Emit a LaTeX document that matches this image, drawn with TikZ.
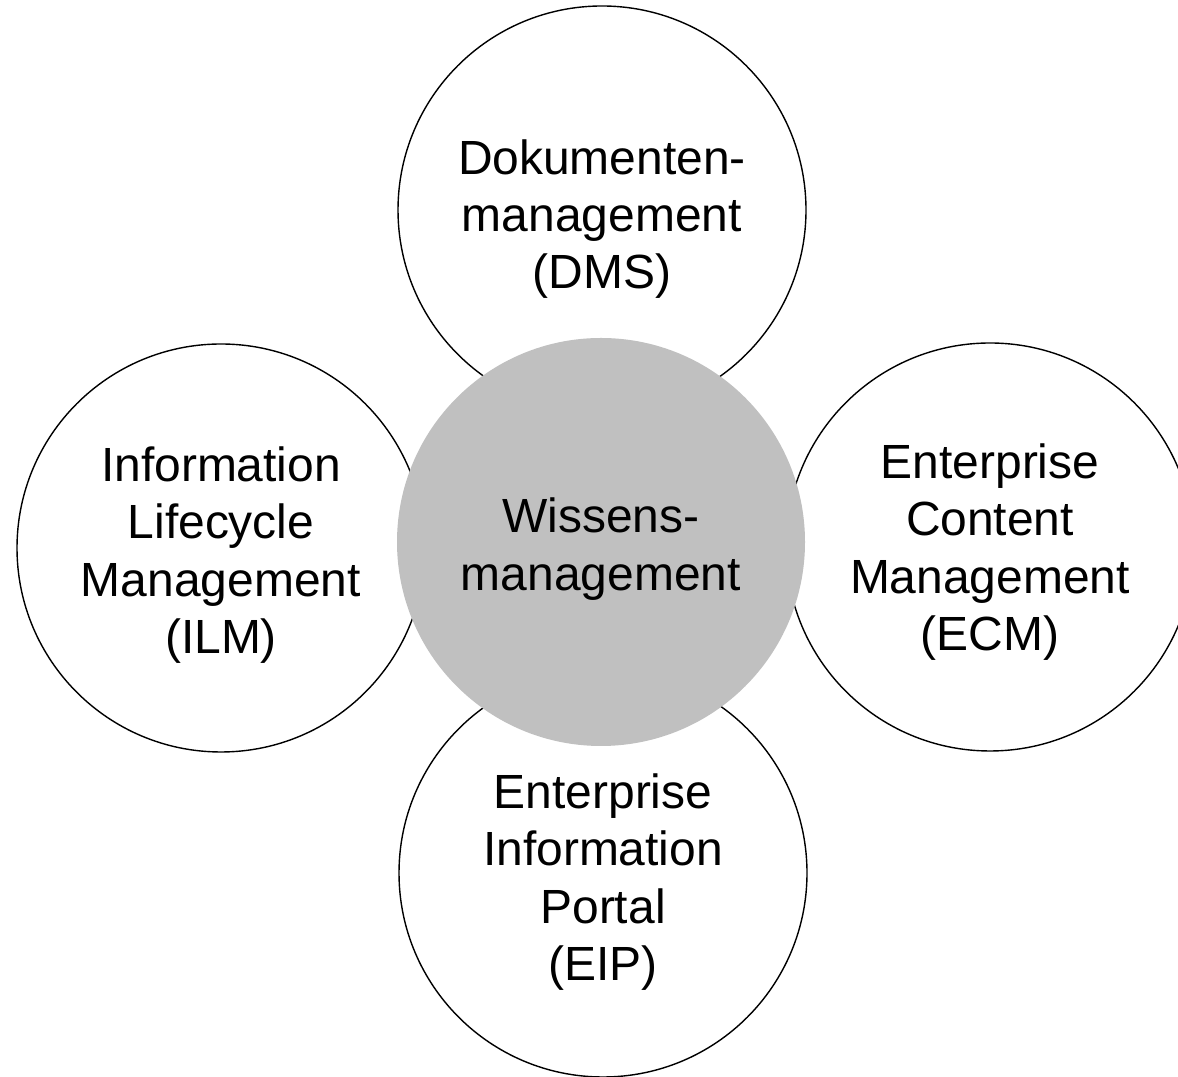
\documentclass[tikz,border=0pt]{standalone}
\usepackage{fontspec}
\setmainfont{Liberation Sans}
\usepackage{tikz}
\usetikzlibrary{calc,shapes,positioning}

\begin{document}
\begin{tikzpicture}
    \tikzstyle{cnode} = [draw=black, circle, line width=0.8pt, fill=white, minimum size=8.16cm, inner sep=0pt]
    \tikzstyle{knode} = [circle, fill={rgb,255:red,192;green,192;blue,192}, minimum size=8.16cm, inner sep=0pt]
    \tikzstyle{tnode} = [inner sep=0pt, align=center, font=\fontsize{27.3}{32.6}\selectfont]

    \useasboundingbox (0,0) rectangle (23.56,21.54);

    \node[cnode] (dms) at (12.04,17.34) {};
    \node[cnode] (ilm) at (4.42,10.58) {};
    \node[cnode] (ecm) at (19.80,10.60) {};
    \node[cnode] (eip) at (12.06,4.08) {};

    \node[knode] (wm) at (12.02,10.70) {};

    \node[tnode] (dmstext) at ($(dms)+(0,-0.18)$) {Dokumenten-\\ management\\ (DMS)};
    \node[tnode] (ilmtext) at ($(ilm)+(0,-0.14)$) {Information\\ Lifecycle\\ Management\\ (ILM)};
    \node[tnode] (ecmtext) at ($(ecm)+(0,-0.10)$) {Enterprise\\ Content\\ Management\\ (ECM)};
    \node[tnode] (eiptext) at ($(eip)+(0,-0.18)$) {Enterprise\\ Information\\ Portal\\ (EIP)};
    \node[tnode] (wmtext) at ($(wm)+(0,-0.14)$) {Wissens-\\ management};

\end{tikzpicture}
\end{document}
